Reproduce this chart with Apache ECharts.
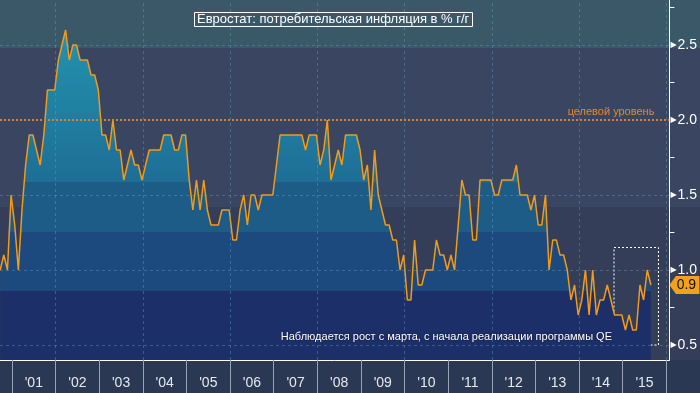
<!DOCTYPE html>
<html><head><meta charset="utf-8">
<script src="https://cdn.jsdelivr.net/npm/echarts@6/dist/echarts.min.js"></script>
<style>html,body{margin:0;padding:0;background:#2b3853;}#c{width:700px;height:393px;}</style>
</head><body><div id="c"></div>
<script>
// ---- data (Euro area core HICP, % y/y), monthly, first point = Sep 2000 ----
const firstYear = 2000;
const firstMonth = 9;
const core2000 = [1.0, 1.1, 1.0, 1.5];
const core2001 = [1.3, 1.0, 1.4, 1.7, 1.9, 1.9, 1.8, 1.7, 1.9, 2.2, 2.2, 2.2];
const core2002 = [2.4, 2.5, 2.6, 2.4, 2.5, 2.5, 2.4, 2.4, 2.4, 2.3, 2.3, 2.2];
const core2003 = [1.9, 1.9, 1.8, 2.0, 1.8, 1.8, 1.6, 1.7, 1.8, 1.7, 1.7, 1.6];
const core2004 = [1.7, 1.8, 1.8, 1.8, 1.8, 1.9, 1.9, 1.9, 1.8, 1.8, 1.9, 1.9];
const core2005 = [1.6, 1.4, 1.6, 1.4, 1.6, 1.4, 1.3, 1.3, 1.3, 1.4, 1.4, 1.4];
const core2006 = [1.2, 1.2, 1.4, 1.5, 1.3, 1.5, 1.5, 1.4, 1.5, 1.5, 1.5, 1.5];
const core2007 = [1.7, 1.9, 1.9, 1.9, 1.9, 1.9, 1.9, 1.9, 1.8, 1.9, 1.9, 1.9];
const core2008 = [1.7, 1.8, 2.0, 1.6, 1.7, 1.8, 1.7, 1.9, 1.9, 1.9, 1.9, 1.8];
const core2009 = [1.6, 1.7, 1.4, 1.8, 1.5, 1.4, 1.3, 1.3, 1.2, 1.2, 1.0, 1.1];
const core2010 = [0.8, 0.8, 1.2, 0.9, 0.9, 1.0, 1.0, 1.0, 1.2, 1.1, 1.1, 1.0];
const core2011 = [1.1, 1.0, 1.3, 1.6, 1.5, 1.5, 1.2, 1.2, 1.6, 1.6, 1.6, 1.6];
const core2012 = [1.5, 1.5, 1.6, 1.6, 1.6, 1.6, 1.7, 1.5, 1.5, 1.5, 1.4, 1.5];
const core2013 = [1.3, 1.3, 1.5, 1.0, 1.2, 1.2, 1.1, 1.1, 1.0, 0.8, 0.9, 0.7];
const core2014 = [0.8, 1.0, 0.7, 1.0, 0.7, 0.8, 0.8, 0.9, 0.8, 0.7, 0.7, 0.7];
const core2015 = [0.6, 0.7, 0.6, 0.6, 0.9, 0.8, 1.0, 0.9];

const yearTicks = [2001,2002,2003,2004,2005,2006,2007,2008,2009,2010,2011,2012,2013,2014,2015,2016];
const yearLabelPos = [2001.5,2002.5,2003.5,2004.5,2005.5,2006.5,2007.5,2008.5,2009.5,2010.5,2011.5,2012.5,2013.5,2014.5,2015.5];
const gridYears = [2002,2004,2006,2008,2010,2012,2014,2016];
const yTickLabels = [0.5, 1.0, 1.5, 2.0, 2.5];
const yMinorTicks = [0.75, 1.25, 1.75, 2.25, 2.75];
const yGridLevels = [0.5, 1.0, 1.5, 2.5];
const targetLevel = 2.0;
const qeBox = [[2014.8, 1.15], [2015.82, 0.5]];

const titleText = 'Евростат: потребительская инфляция в % г/г';
const noteText = 'Наблюдается рост с марта, с начала реализации программы QE';
const targetText = 'целевой уровень';

// ---- build points ----
const allYears = [core2000, core2001, core2002, core2003, core2004, core2005, core2006, core2007,
                  core2008, core2009, core2010, core2011, core2012, core2013, core2014, core2015];
const points = [];
allYears.forEach((arr, i) => {
  const yr = firstYear + i;
  const m0 = i === 0 ? firstMonth - 1 : 0;
  arr.forEach((v, j) => points.push([yr + (m0 + j + 0.75) / 12, v]));
});
const lastVal = points[points.length - 1][1];
const xMin = 2000.725, xMax = 2016.07;

function bandGradient(h, bands) {
  const stops = [];
  bands.forEach(b => {
    stops.push({offset: b[0] / h, color: b[2]});
    stops.push({offset: Math.min(1, b[1] / h) - 0.0001, color: b[3] || b[2]});
  });
  return stops;
}

const chart = echarts.init(document.getElementById('c'));
const bg = new echarts.graphic.LinearGradient(0, 0, 0, 1, bandGradient(393, [
  [0, 48, '#3b5869'], [48, 207, '#3a4661'], [207, 360, '#343e58'], [360, 393, '#2b3853']
]));
const areaFill = new echarts.graphic.LinearGradient(0, 0, 0, 393, bandGradient(393, [
  [0, 40, '#2394b2'], [40, 182, '#2290ae', '#1e6e96'], [182, 232, '#1e5c88'],
  [232, 291, '#1d4a7e'], [291, 393, '#1c2f69']
]), true);

const gridLineStyle = {color: 'rgba(100,165,210,0.38)', type: [3, 3], width: 1};

chart.setOption({
  animation: false,
  backgroundColor: bg,
  title: [
    {text: titleText, left: 194, top: 12, borderColor: '#ffffff', borderWidth: 1, padding: [1, 3, 1, 3],
     textStyle: {color: '#ffffff', fontSize: 13, fontWeight: 'normal', fontFamily: 'Liberation Sans'}},
    {text: noteText, right: 88, top: 331, padding: 0,
     textStyle: {color: '#ffffff', fontSize: 11, fontWeight: 'normal', fontFamily: 'Liberation Sans',
                 textShadowColor: 'rgba(0,0,0,0.6)', textShadowBlur: 2}}
  ],
  grid: {left: 0, right: 30, top: 0, bottom: 33, containLabel: false},
  xAxis: {
    type: 'value', min: xMin, max: xMax,
    axisLine: {show: true, lineStyle: {color: '#ffffff', width: 1}},
    axisTick: {show: true, customValues: yearTicks, length: 33, lineStyle: {color: '#9aa3b5', width: 1}},
    axisLabel: {customValues: yearLabelPos, formatter: v => "'" + String(Math.floor(v)).slice(2),
                color: '#e4e9ef', fontSize: 14, fontFamily: 'Liberation Sans', margin: 16},
    splitLine: {show: false}
  },
  yAxis: {
    type: 'value', position: 'right', min: 0.4, max: 2.8,
    axisLine: {show: true, lineStyle: {color: '#ffffff', width: 1}},
    axisTick: {show: true, customValues: yMinorTicks, length: 5, inside: false, lineStyle: {color: '#ffffff'}},
    axisLabel: {customValues: yTickLabels, margin: 1,
      formatter: v => '{t|▶}{v|' + v.toFixed(1) + '}',
      rich: {t: {fontSize: 8, color: '#ffffff', fontFamily: 'DejaVu Sans', padding: [0, 1, 0, 0]},
             v: {fontSize: 14, color: '#ffffff', fontFamily: 'Liberation Sans'}}},
    splitLine: {show: false}
  },
  series: [
    {type: 'line', data: points, symbol: 'none', z: 1, lineStyle: {width: 0}, areaStyle: {color: areaFill, opacity: 1}},
    {type: 'line', data: [], z: 2, silent: true,
     markLine: {silent: true, symbol: 'none', label: {show: false}, lineStyle: gridLineStyle,
       data: gridYears.map(y => ({xAxis: y})).concat(yGridLevels.map(v => ({yAxis: v})))},
     markArea: {silent: true, itemStyle: {color: 'rgba(0,0,0,0)', borderColor: '#ffffff', borderWidth: 1, borderType: [2, 2]},
       data: [[{coord: qeBox[0]}, {coord: qeBox[1]}]]}},
    {type: 'line', data: [], z: 3, silent: true,
     markLine: {silent: true, symbol: 'none',
       data: [{yAxis: targetLevel, lineStyle: {color: '#d9822b', type: [2, 2], width: 2},
               label: {show: true, position: 'insideEndTop', formatter: targetText, color: '#e8862d',
                       fontSize: 11, fontFamily: 'Liberation Sans', distance: [15, 3]}}]}},
    {type: 'line', data: points, symbol: 'none', z: 4, lineStyle: {color: '#f39b17', width: 1.5},
     markPoint: {silent: true, symbol: 'path://M0,9 L7,0 L32,0 L32,18 L7,18 Z', symbolSize: [30, 18],
       symbolKeepAspect: false, symbolOffset: [15, 0], itemStyle: {color: '#f3a11a'},
       label: {show: true, color: '#111111', fontSize: 14, fontFamily: 'Liberation Sans', offset: [2, 0],
               formatter: p => p.value.toFixed(1)},
       data: [{coord: [xMax, lastVal], value: lastVal}]}}
  ]
});
</script></body></html>
